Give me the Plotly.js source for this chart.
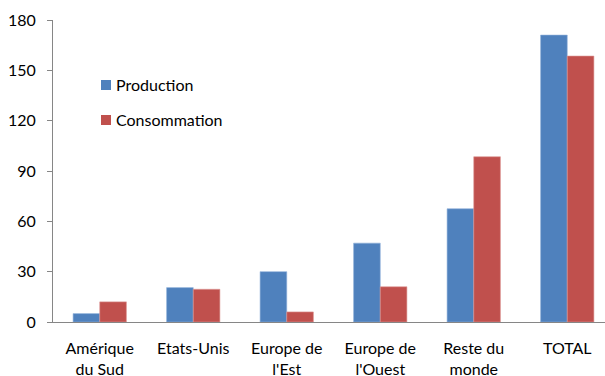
<!DOCTYPE html>
<html>
<head>
<meta charset="utf-8">
<script src="https://cdn.plot.ly/plotly-3.0.1.min.js"></script>
<style>
  html, body { margin: 0; padding: 0; background: #fff; overflow: hidden; }
  #chart { width: 614px; height: 376px; }
</style>
</head>
<body>
<div id="chart"></div>
<script>
// Regions, as two-line category labels
const categories = [
  "Amérique<br>du Sud",
  "Etats-Unis",
  "Europe de<br>l'Est",
  "Europe de<br>l'Ouest",
  "Reste du<br>monde",
  "TOTAL"
];
const production   = [5, 20.5, 30, 47, 67.5, 171];
const consommation = [12, 19.5, 6, 21, 98.5, 158.5];
const yTicks = [0, 30, 60, 90, 120, 150, 180];

const seriesNames  = ["Production", "Consommation"];
const seriesColors = ["#4F81BD", "#C0504D"];
const edgeColors   = ["#8FB0DA", "#DB9593"];

const font = { family: "Lato, 'Open Sans', sans-serif", size: 16, color: "#000" };

const W = 614, H = 376;
const margin = { l: 53, r: 0, t: 20, b: 54, pad: 0 };
const plotW = W - margin.l - margin.r;
const plotH = H - margin.t - margin.b;
// pixel position inside the page -> paper fraction
const px = x => (x - margin.l) / plotW;
const py = y => (H - margin.b - y) / plotH;

const traces = [production, consommation].map((vals, i) => ({
  type: "bar", name: seriesNames[i], x: categories, y: vals,
  marker: { color: seriesColors[i], line: { color: edgeColors[i], width: 0.6 } },
  hoverinfo: "skip", showlegend: false
}));

// Legend drawn as small swatches with labels, floating in the upper left
const legendRows = [85, 120];
const shapes = legendRows.map((cy, i) => ({
  type: "rect", xref: "paper", yref: "paper",
  x0: px(101), x1: px(111), y0: py(cy + 5), y1: py(cy - 5),
  fillcolor: seriesColors[i], line: { width: 0 }
}));
const annotations = legendRows.map((cy, i) => ({
  xref: "paper", yref: "paper", x: px(114), y: py(cy - 1),
  xanchor: "left", yanchor: "middle", showarrow: false,
  text: seriesNames[i], font: font
}));

const layout = {
  width: W, height: H,
  margin: margin,
  paper_bgcolor: "#fff", plot_bgcolor: "#fff",
  font: font,
  barmode: "group",
  bargap: 0.43, bargroupgap: 0,
  showlegend: false,
  shapes: shapes,
  annotations: annotations,
  xaxis: {
    type: "category",
    showline: true, linecolor: "#868686", linewidth: 1,
    ticks: "", showgrid: false, zeroline: false,
    tickfont: font, ticklabelstandoff: 12,
    fixedrange: true
  },
  yaxis: {
    range: [0, 180], tickvals: yTicks, ticktext: yTicks.map(String),
    showline: true, linecolor: "#868686", linewidth: 1,
    ticks: "outside", ticklen: 5, tickcolor: "#868686",
    showgrid: false, zeroline: false,
    tickfont: font, ticklabelstandoff: 8,
    fixedrange: true
  }
};

Plotly.newPlot("chart", traces, layout, { displayModeBar: false, staticPlot: true });
</script>
</body>
</html>
